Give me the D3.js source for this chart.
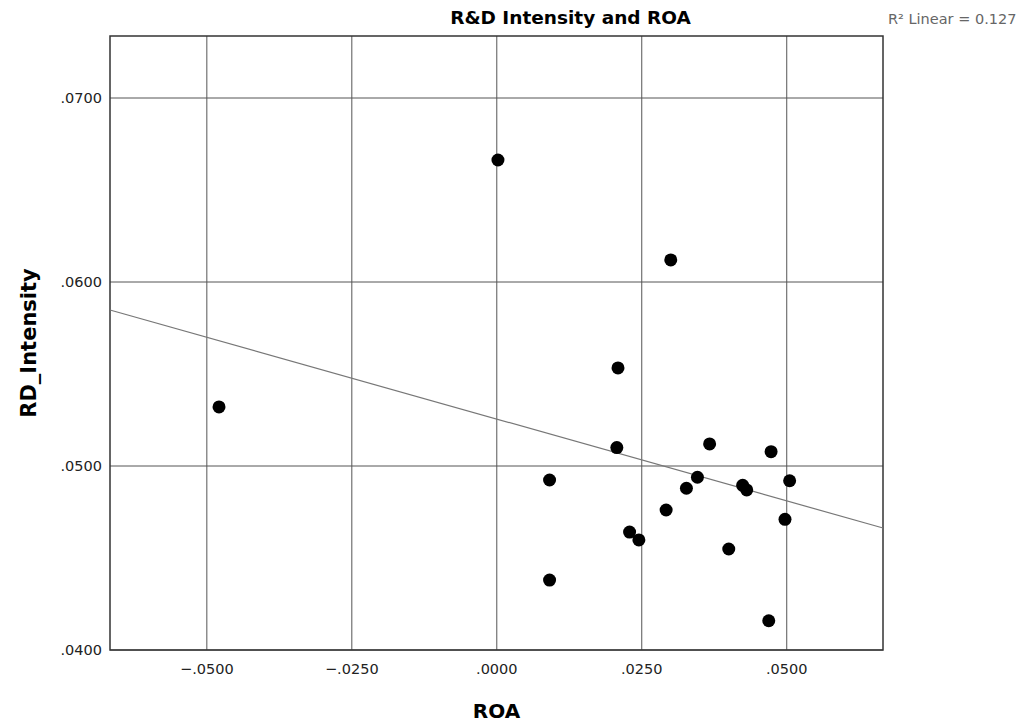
<!DOCTYPE html>
<html>
<head>
<meta charset="utf-8">
<script src="https://cdn.jsdelivr.net/npm/d3@7"></script>
<style>
  body { margin: 0; background: #fff; }
  text { font-family: "DejaVu Sans", sans-serif; }
</style>
</head>
<body>
<svg></svg>
<script>
// values
const roa = [-0.0479, 0.0002, 0.0300, 0.0209, 0.0207, 0.0091, 0.0091, 0.0367, 0.0473, 0.0346,
             0.0327, 0.0424, 0.0431, 0.0505, 0.0292, 0.0497, 0.0229, 0.0245, 0.0400, 0.0469];
const rdIntensity = [0.05321, 0.06663, 0.0612, 0.05533, 0.0510, 0.04924, 0.0438, 0.0512, 0.05078, 0.04939,
                     0.04879, 0.04895, 0.04870, 0.04920, 0.04761, 0.04710, 0.04641, 0.04598, 0.04549, 0.04159];
const xTicks = [-0.05, -0.025, 0, 0.025, 0.05];
const yTicks = [0.04, 0.05, 0.06, 0.07];
// fit line as drawn in the reference
const fitIntercept = 0.05255;
const fitSlope = -0.0889;
const rSquared = '0.127';

const width = 1036;
const height = 727;
const margin = {top: 36, bottom: 77, left: 110, right: 153};
const innerWidth = width - margin.left - margin.right;
const innerHeight = height - margin.top - margin.bottom;

const svg = d3.select('svg')
    .attr('width', width)
    .attr('height', height);

const g = svg.append('g')
    .attr('transform', `translate(${margin.left}, ${margin.top})`);

const x = d3.scaleLinear().domain([-0.0667, 0.0666]).range([0, innerWidth]);
const y = d3.scaleLinear().domain([0.04, 0.07337]).range([innerHeight, 0]);

const fmt = d => (d < 0 ? '\u2212' : '') + d3.format('.4f')(Math.abs(d)).replace(/^0/, '');

// gridlines
g.selectAll('line.gx').data(xTicks).enter().append('line')
    .attr('x1', d => x(d)).attr('x2', d => x(d))
    .attr('y1', 0).attr('y2', innerHeight)
    .attr('stroke', '#555').attr('stroke-width', 1);
g.selectAll('line.gy').data(yTicks).enter().append('line')
    .attr('x1', 0).attr('x2', innerWidth)
    .attr('y1', d => y(d)).attr('y2', d => y(d))
    .attr('stroke', '#555').attr('stroke-width', 1);

// tick labels
g.selectAll('text.tx').data(xTicks).enter().append('text')
    .attr('x', d => x(d)).attr('y', innerHeight + 24)
    .attr('text-anchor', 'middle').attr('font-size', 14.5).attr('fill', '#222')
    .text(fmt);
g.selectAll('text.ty').data(yTicks).enter().append('text')
    .attr('x', -8).attr('y', d => y(d)).attr('dy', '.35em')
    .attr('text-anchor', 'end').attr('font-size', 14.5).attr('fill', '#222')
    .text(fmt);

// frame
g.append('rect')
    .attr('width', innerWidth).attr('height', innerHeight)
    .attr('fill', 'none').attr('stroke', '#333').attr('stroke-width', 1.5);

// fit line
const xd = x.domain();
g.append('line')
    .attr('x1', x(xd[0])).attr('y1', y(fitIntercept + fitSlope * xd[0]))
    .attr('x2', x(xd[1])).attr('y2', y(fitIntercept + fitSlope * xd[1]))
    .attr('stroke', '#777').attr('stroke-width', 1.2);

// points
g.selectAll('circle').data(roa).enter().append('circle')
    .attr('cx', d => x(d))
    .attr('cy', (d, i) => y(rdIntensity[i]))
    .attr('r', 6.5)
    .attr('fill', '#000');

// titles
svg.append('text')
    .attr('x', margin.left + innerWidth / 2 + 74).attr('y', 24)
    .attr('text-anchor', 'middle').attr('font-size', 18.5).attr('font-weight', 'bold')
    .text('R&D Intensity and ROA');
svg.append('text')
    .attr('x', margin.left + innerWidth / 2).attr('y', 718)
    .attr('text-anchor', 'middle').attr('font-size', 20).attr('font-weight', 'bold')
    .text('ROA');
svg.append('text')
    .attr('transform', `translate(36, ${margin.top + innerHeight / 2}) rotate(-90)`)
    .attr('text-anchor', 'middle').attr('font-size', 21).attr('font-weight', 'bold')
    .text('RD_Intensity');
svg.append('text')
    .attr('x', margin.left + innerWidth + 5).attr('y', 24)
    .attr('font-size', 14.5).attr('fill', '#666')
    .text(`R\u00b2 Linear = ${rSquared}`);
</script>
</body>
</html>
